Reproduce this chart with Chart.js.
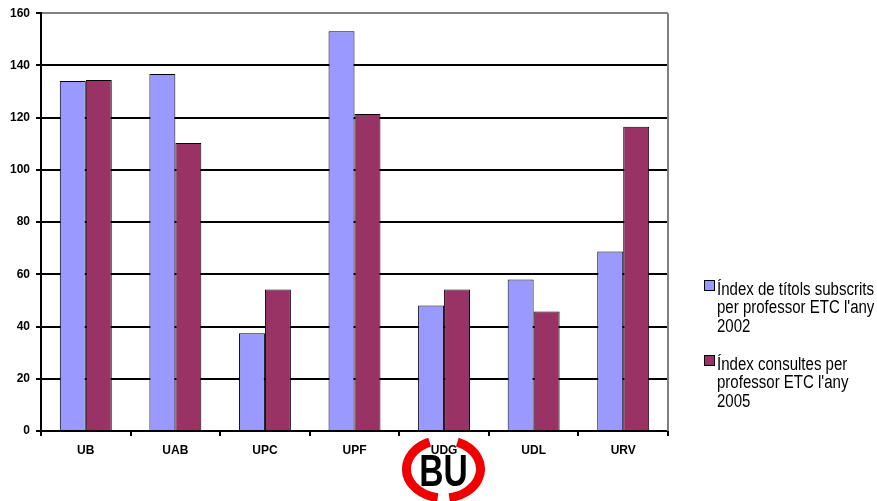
<!DOCTYPE html>
<html>
<head>
<meta charset="utf-8">
<script src="https://cdn.jsdelivr.net/npm/chart.js@4/dist/chart.umd.min.js"></script>
<style>
  html, body { margin: 0; padding: 0; background: #fff; }
  #wrap { width: 877px; height: 501px; position: relative; }
</style>
</head>
<body>
<div id="wrap"><canvas id="c" width="877" height="501"></canvas></div>
<script>
const categories = ['UB', 'UAB', 'UPC', 'UPF', 'UDG', 'UDL', 'URV'];
const index2002 = [134.0, 136.7, 37.4, 153.1, 48.1, 58.0, 68.7];
const index2005 = [134.4, 110.3, 54.2, 121.4, 54.2, 45.8, 116.5];
const legend2002 = ['Índex de títols subscrits', "per professor ETC l'any", '2002'];
const legend2005 = ['Índex consultes per', "professor ETC l'any", '2005'];
const yMin = 0, yMax = 160, yStep = 20;
const logoText = 'BU';

const colors = ['#9999FF', '#993366'];

const logoPlugin = {
  id: 'logo',
  beforeDraw(chart) {
    const ctx = chart.ctx;
    ctx.save();
    const cx = 443.5, cy = 469, rx = 37, ry = 29;
    ctx.strokeStyle = '#F00000';
    ctx.lineWidth = 9;
    const deg = Math.PI / 180;
    ctx.beginPath();
    ctx.ellipse(cx, cy, rx, ry, 0, -68 * deg, 81 * deg);
    ctx.stroke();
    ctx.beginPath();
    ctx.ellipse(cx, cy, rx, ry, 0, 99 * deg, 248 * deg);
    ctx.stroke();
    ctx.translate(cx, 472);
    ctx.scale(0.8, 1.05);
    ctx.fillStyle = '#000';
    ctx.font = 'bold 42px "Liberation Sans", Arial, sans-serif';
    ctx.textAlign = 'center';
    ctx.textBaseline = 'middle';
    ctx.fillText(logoText, 0, 2);
    ctx.restore();
  }
};

const framePlugin = {
  id: 'frame',
  afterDraw(chart) {
    const ctx = chart.ctx, a = chart.chartArea;
    ctx.save();
    ctx.strokeStyle = '#808080';
    ctx.lineWidth = 2;
    ctx.beginPath();
    ctx.moveTo(a.right, a.top);
    ctx.lineTo(a.right, a.bottom);
    ctx.stroke();
    ctx.restore();
  }
};

const legendPlugin = {
  id: 'customLegend',
  afterDraw(chart) {
    const ctx = chart.ctx;
    ctx.save();
    const groups = [legend2002, legend2005];
    ctx.font = '18px "Liberation Sans Narrow", "Arial Narrow", "Liberation Sans", Arial, sans-serif';
    const w = ctx.measureText(legend2002[0]).width;
    const sx = 157 / w;
    groups.forEach((lines, g) => {
      const baseY = 295 + g * 75;
      ctx.fillStyle = colors[g];
      ctx.fillRect(704.5, baseY - 14.5, 10, 10);
      ctx.strokeStyle = '#000';
      ctx.lineWidth = 1;
      ctx.strokeRect(704.5, baseY - 14.5, 10, 10);
      ctx.fillStyle = '#000';
      ctx.textBaseline = 'alphabetic';
      ctx.textAlign = 'left';
      lines.forEach((t, i) => {
        ctx.save();
        ctx.translate(717, baseY + i * 18.4);
        ctx.scale(sx, 1);
        ctx.fillText(t, 0, 0);
        ctx.restore();
      });
    });
    ctx.restore();
  }
};

new Chart(document.getElementById('c'), {
  type: 'bar',
  data: {
    labels: categories,
    datasets: [
      { label: legend2002.join(' '), data: index2002, backgroundColor: colors[0], borderColor: '#000', borderWidth: 1, borderSkipped: 'bottom' },
      { label: legend2005.join(' '), data: index2005, backgroundColor: colors[1], borderColor: '#000', borderWidth: 1, borderSkipped: 'bottom' }
    ]
  },
  options: {
    responsive: false,
    animation: false,
    devicePixelRatio: 1,
    layout: { padding: { top: 12, right: 209, left: 0, bottom: 0 } },
    datasets: { bar: { categoryPercentage: 0.58, barPercentage: 1.0 } },
    plugins: { legend: { display: false }, tooltip: { enabled: false } },
    scales: {
      x: {
        grid: { offset: true, drawOnChartArea: false, drawTicks: true, tickLength: 5, tickColor: '#000', lineWidth: 2 },
        border: { color: '#000', width: 2 },
        ticks: { color: '#000', padding: 7, font: { family: '"Liberation Sans", Arial, sans-serif', size: 12, weight: 'bold' } },
        afterFit(scale) { scale.height = 70; }
      },
      y: {
        min: yMin, max: yMax,
        ticks: { stepSize: yStep, color: '#000', padding: 6, font: { family: '"Liberation Sans", Arial, sans-serif', size: 12, weight: 'bold' } },
        grid: {
          color: (c) => (c.tick && c.tick.value === yMax) ? '#808080' : '#000',
          lineWidth: 2,
          tickLength: 5,
          tickColor: '#000'
        },
        border: { color: '#000', width: 2 },
        afterFit(scale) { scale.width = 41; }
      }
    }
  },
  plugins: [logoPlugin, framePlugin, legendPlugin]
});
</script>
</body>
</html>
